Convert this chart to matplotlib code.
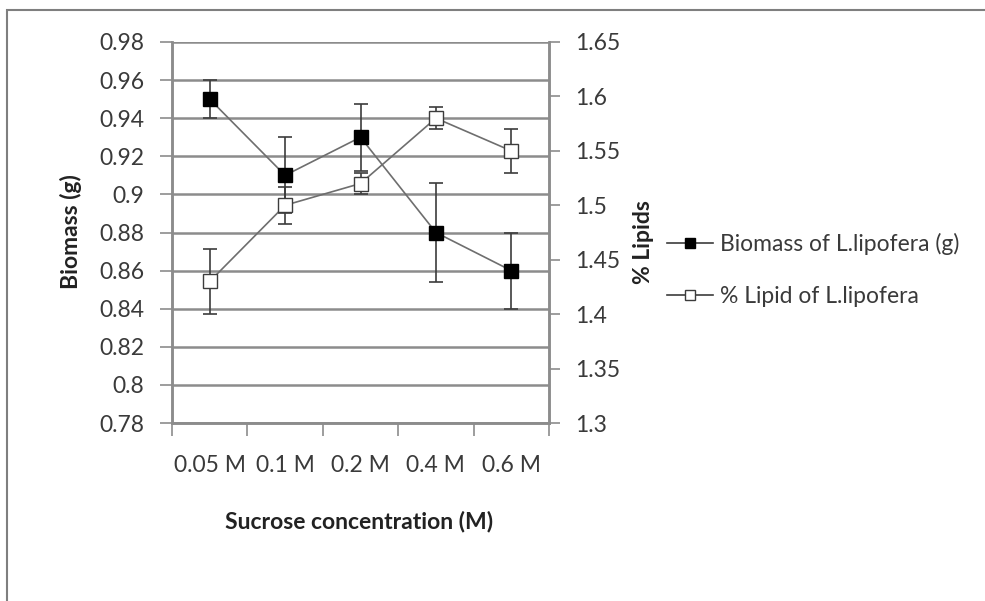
import numpy as np
import matplotlib.pyplot as plt
from matplotlib.patches import Rectangle
from matplotlib.lines import Line2D

plt.rcParams['font.family'] = ['Lato', 'DejaVu Sans']

concentrations = ["0.05 M", "0.1 M", "0.2 M", "0.4 M", "0.6 M"]
biomass = [0.95, 0.91, 0.93, 0.88, 0.86]
biomass_err = [0.01, 0.02, 0.0175, 0.026, 0.02]
lipid = [1.43, 1.50, 1.52, 1.58, 1.55]
lipid_err = [0.03, 0.017, 0.01, 0.01, 0.02]

grid_col = "#8c8c8c"
text_col = "#3a3a3a"
fs = 16.5

fig = plt.figure(figsize=(9.85, 6.01), dpi=100)
# outer chart frame
fig.patches.append(Rectangle((7 / 985, -0.05), 1.1, 1 - 10 / 601 + 0.05,
                             transform=fig.transFigure, fill=False,
                             edgecolor="#7f7f7f", linewidth=1.5))

ax = fig.add_axes([172 / 985, 1 - 423 / 601, 377 / 985, 381 / 601])
ax2 = ax.twinx()

x = np.arange(len(concentrations))

ax.set_ylim(0.78, 0.98)
ax.set_yticks(np.arange(0.78, 0.981, 0.02))
ax.set_yticklabels(["0.78", "0.8", "0.82", "0.84", "0.86", "0.88", "0.9",
                    "0.92", "0.94", "0.96", "0.98"])
ax2.set_ylim(1.3, 1.65)
ax2.set_yticks(np.arange(1.3, 1.651, 0.05))
ax2.set_yticklabels(["1.3", "1.35", "1.4", "1.45", "1.5", "1.55", "1.6", "1.65"])

# category boundaries carry the tick marks, labels sit at the centres
ax.set_xlim(-0.5, len(concentrations) - 0.5)
ax.set_xticks(np.arange(-0.5, len(concentrations)))
ax.set_xticklabels([])
ax.set_xticks(x, minor=True)
ax.set_xticklabels(concentrations, minor=True)
ax.tick_params(axis="x", which="minor", length=0, pad=23, labelsize=fs,
               labelcolor=text_col)
ax.tick_params(axis="x", which="major", length=9, width=1.2, color=grid_col,
               direction="out")

ax.yaxis.grid(True, color=grid_col, linewidth=1.8)
ax.set_axisbelow(True)
ax.tick_params(axis="y", length=9, width=1.2, color=grid_col, pad=11,
               labelsize=fs, labelcolor=text_col)
ax2.tick_params(axis="y", length=8, width=1.2, color=grid_col, pad=11,
                labelsize=fs, labelcolor=text_col)

for a in (ax, ax2):
    a.spines["top"].set_visible(False)
    for side in ("left", "right", "bottom"):
        a.spines[side].set_color(grid_col)
        a.spines[side].set_linewidth(1.8)

ax.errorbar(x, biomass, yerr=biomass_err, color="#6e6e6e", linewidth=1.2,
            ecolor="#3c3c3c", elinewidth=1.2, capsize=5, capthick=1.2,
            marker="s", markersize=10, markerfacecolor="black",
            markeredgecolor="black", zorder=3)
ax2.errorbar(x, lipid, yerr=lipid_err, color="#6e6e6e", linewidth=1.2,
             ecolor="#3c3c3c", elinewidth=1.2, capsize=5, capthick=1.2,
             marker="s", markersize=10, markerfacecolor="white",
             markeredgecolor="#3c3c3c", zorder=3)

fig.text(71 / 985, 1 - 232 / 601, "Biomass (g)", rotation=90, ha="center",
         va="center", fontsize=fs, fontweight="bold", color="#222222")
fig.text(644 / 985, 1 - 242 / 601, "% Lipids", rotation=90, ha="center",
         va="center", fontsize=fs, fontweight="bold", color="#222222")
fig.text(359 / 985, 1 - 521 / 601, "Sucrose concentration (M)", ha="center",
         va="center", fontsize=fs, fontweight="bold", color="#222222")

handles = [
    Line2D([], [], color="#3c3c3c", linewidth=1.2, marker="s", markersize=7,
           markerfacecolor="black", markeredgecolor="black"),
    Line2D([], [], color="#3c3c3c", linewidth=1.2, marker="s", markersize=7,
           markerfacecolor="white", markeredgecolor="#3c3c3c"),
]
fig.legend(handles, ["Biomass of L.lipofera (g)", "% Lipid of L.lipofera"],
           loc="center left", bbox_to_anchor=(667 / 985, 1 - 270 / 601),
           frameon=False, fontsize=fs, labelcolor=text_col,
           handlelength=2.0, handletextpad=0.3, labelspacing=1.35,
           borderaxespad=0, borderpad=0)

fig.savefig("out.png", dpi=100, facecolor="white")
